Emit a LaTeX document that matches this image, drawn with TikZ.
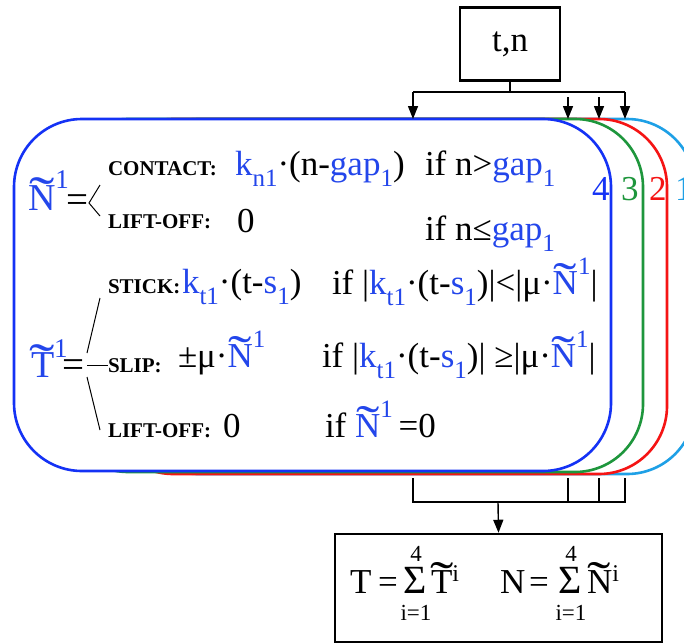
\documentclass[tikz,border=0pt]{standalone}
\usepackage{fontspec}
\usepackage{graphicx}
\setmainfont{Liberation Serif}
\usetikzlibrary{arrows.meta}
\definecolor{tb}{RGB}{35,70,235}
\definecolor{cfour}{RGB}{20,50,245}
\definecolor{cthree}{RGB}{30,150,60}
\definecolor{ctwo}{RGB}{245,20,20}
\definecolor{cone}{RGB}{30,160,230}
\newcommand\fs[1]{\fontsize{#1}{#1}\selectfont}
\newcommand\bl[1]{\textcolor{tb}{#1}}
\newcommand\sbs[1]{\raisebox{-11pt}{\fs{25}#1}}
\newcommand\capl[1]{{\fs{21}\bfseries #1}}
\newcommand\tld[1]{\ooalign{#1\cr\hidewidth\raisebox{-0.08em}{\scalebox{2.0}[1.4]{˜}}\hidewidth\cr}}
\newcommand\Ns{\bl{\tld{N}\raisebox{20pt}{\fs{25}1}}}
\tikzset{
  t/.style={anchor=base west, inner sep=0pt, outer sep=0pt, font=\fs{35}},
  rbox/.style={rectangle, rounded corners=68pt, line width=2.6pt, fill=white, inner sep=0pt},
  plain/.style={draw, line width=2.5pt, inner sep=0pt},
  conn/.style={line width=1.4pt},
  arr/.style={conn, -{Triangle[length=13pt,width=10pt]}}
}
\begin{document}
\begin{tikzpicture}[x=1pt,y=-1pt]
\useasboundingbox (0,0) rectangle (684,643);
% stacked rounded boxes
\node[rbox, draw=cone, minimum width=565pt, minimum height=355pt] (b1) at (412.5,296.5) {};
\node[rbox, draw=ctwo, minimum width=562pt, minimum height=355pt] (b2) at (386,296.5) {};
\node[rbox, draw=cthree, minimum width=583pt, minimum height=353pt] (b3) at (351.5,295.5) {};
\node[rbox, draw=cfour, minimum width=597pt, minimum height=352pt] (b4) at (312.5,295) {};
% layer numbers
\node[t, text=cfour] (n4) at (592,200) {4};
\node[t, text=cthree] (n3) at (621,200) {3};
\node[t, text=ctwo] (n2) at (649,200) {2};
\node[t, text=cone] (n1) at (675,200) {1};
% input box
\node[plain, minimum width=100pt, minimum height=73pt, font=\fs{35}] (tn) at (510,44) {t,n};
\coordinate (split) at (510,92);
\coordinate (hl) at (413,92);
\coordinate (hr) at (625,92);
\coordinate (a4) at (413,119);
\coordinate (s3) at (568,97);
\coordinate (a3) at (568,119);
\coordinate (s2) at (599,97);
\coordinate (a2) at (599,119);
\coordinate (a1) at (625,119);
\draw[conn] (tn.south) -- (split);
\draw[conn] (hl) -- (hr);
\draw[arr] (hl) -- (a4);
\draw[arr] (s3) -- (a3);
\draw[arr] (s2) -- (a2);
\draw[arr] (hr) -- (a1);
% output box
\node[plain, minimum width=327pt, minimum height=108pt] (sum) at (498.5,588) {};
\coordinate (o4) at (413,478);
\coordinate (o3) at (568,478);
\coordinate (o2) at (599,478);
\coordinate (o1) at (625,478);
\coordinate (j4) at (413,502);
\coordinate (j3) at (568,502);
\coordinate (j2) at (599,502);
\coordinate (j1) at (625,502);
\coordinate (join) at (498,502);
\draw[conn] (o4) -- (j4) -- (j1) -- (o1);
\draw[conn] (o3) -- (j3);
\draw[conn] (o2) -- (j2);
\draw[arr] (join) -- (sum.north);
% normal force
\node[t, font=\fs{38}] (Nl) at (28,210) {\bl{\tld{N}\raisebox{22pt}{\fs{27}1}}};
\node[t, font=\fs{39}] (eqN) at (66,212) {=};
\coordinate (fN) at (89,203);
\coordinate (fNu) at (100,185);
\coordinate (fNd) at (100,216);
\draw[line width=1pt] (fNu) -- (fN) -- (fNd);
\node[t] (contact) at (108,175) {\capl{CONTACT:}};
\node[t] (kn) at (235,175) {\bl{k\sbs{n1}}·(n-\bl{gap\sbs{1}})};
\node[t] (cond1) at (425,175) {if n>\bl{gap\sbs{1}}};
\node[t] (lo1) at (108,228) {\capl{LIFT-OFF:}};
\node[t] (z1) at (237,232) {0};
\node[t] (cond2) at (425,240) {if n≤\bl{gap\sbs{1}}};
% tangential force
\node[t, font=\fs{38}] (Tl) at (31,377) {\bl{\tld{T}\raisebox{20pt}{\fs{27}1}}};
\node[t, font=\fs{39}] (eqT) at (62,377) {=};
\coordinate (fTu0) at (87,353);
\coordinate (fTu) at (100,298);
\coordinate (fTd0) at (87,377);
\coordinate (fTd) at (100,430);
\coordinate (fTm0) at (87,365);
\coordinate (fTm) at (108,365);
\draw[line width=1pt] (fTu0) -- (fTu);
\draw[line width=1pt] (fTd0) -- (fTd);
\draw[line width=1pt] (fTm0) -- (fTm);
\node[t] (stick) at (108,293) {\capl{STICK:}};
\node[t] (kt) at (182,293) {\bl{k\sbs{t1}}·(t-\bl{s\sbs{1}})};
\node[t] (cond3) at (332,294) {if |\bl{k\sbs{t1}}·(t-\bl{s\sbs{1}})|<|μ·\Ns|};
\node[t] (slip) at (108,372) {\capl{SLIP:}};
\node[t] (mu) at (178,367) {±μ·\Ns};
\node[t] (cond4) at (322,367) {if |\bl{k\sbs{t1}}·(t-\bl{s\sbs{1}})| ≥|μ·\Ns|};
\node[t] (lo2) at (108,437) {\capl{LIFT-OFF:}};
\node[t] (z2) at (223,437) {0};
\node[t] (cond5) at (325,437) {if \Ns\,=0};
% sums
\node[t, font=\fs{35}] (Tsum) at (350,593) {T};
\node[t, font=\fs{35}] (eqs1) at (378,593) {=};
\node[t, font=\fs{40}] (sig1) at (403,593) {Σ};
\node[inner sep=0pt, font=\fs{23}] (up1) at (416,554) {4};
\node[inner sep=0pt, font=\fs{23}] (lo1s) at (416,613) {i=1};
\node[t, font=\fs{35}] (Ti) at (431,593) {\tld{T}\raisebox{12pt}{\fs{24}i}};
\node[t, font=\fs{35}] (Nsum) at (500,593) {N};
\node[t, font=\fs{35}] (eqs2) at (529,593) {=};
\node[t, font=\fs{40}] (sig2) at (558,593) {Σ};
\node[inner sep=0pt, font=\fs{23}] (up2) at (571,554) {4};
\node[inner sep=0pt, font=\fs{23}] (lo2s) at (571,613) {i=1};
\node[t, font=\fs{35}] (Ni) at (587,593) {\tld{N}\raisebox{12pt}{\fs{24}i}};
\end{tikzpicture}
\end{document}
